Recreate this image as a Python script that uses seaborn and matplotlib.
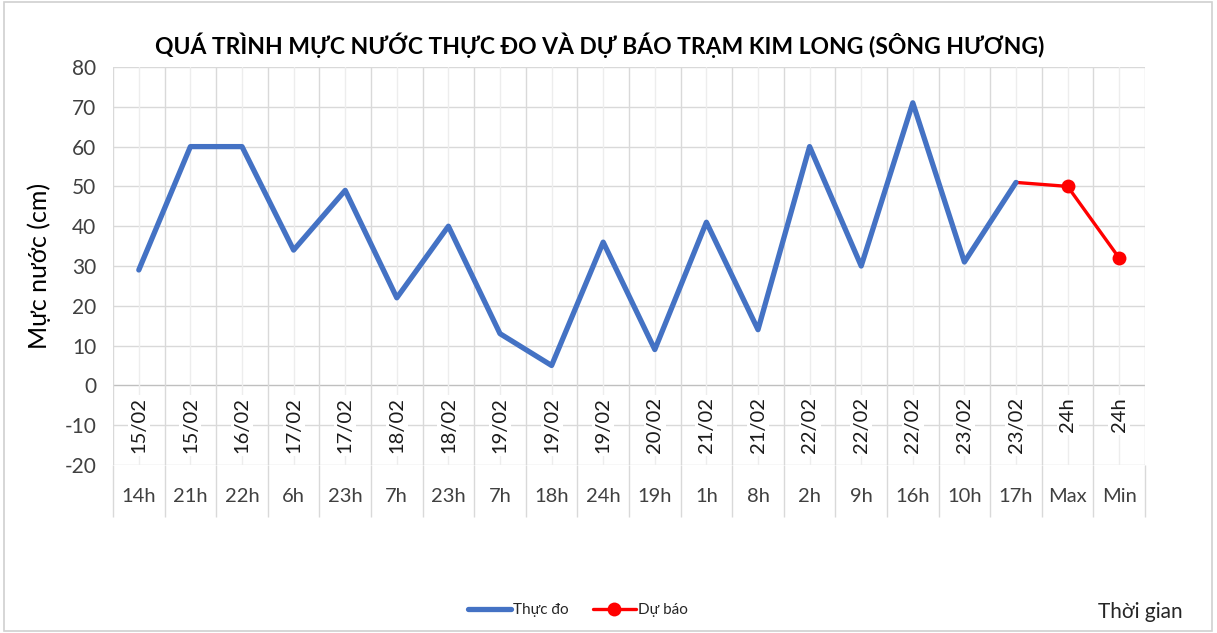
import matplotlib
matplotlib.use("Agg")
import matplotlib.pyplot as plt
import seaborn as sns
import pandas as pd
import numpy as np
from matplotlib.patches import Rectangle

dates = ["15/02", "15/02", "16/02", "17/02", "17/02", "18/02", "18/02", "19/02", "19/02",
         "19/02", "20/02", "21/02", "21/02", "22/02", "22/02", "22/02", "23/02", "23/02", "24h", "24h"]
hours = ["14h", "21h", "22h", "6h", "23h", "7h", "23h", "7h", "18h", "24h", "19h",
         "1h", "8h", "2h", "9h", "16h", "10h", "17h", "Max", "Min"]
# measured (Thực đo)
measured = [29, 60, 60, 34, 49, 22, 40, 13, 5, 36, 9, 41, 14, 60, 30, 71, 31, 51]
# forecast (Dự báo), starting at the last observation
forecast = [51, 50, 32]
forecast_start = 17

sns.set_style("white")
plt.rcParams['font.family'] = ['Lato', 'DejaVu Sans']
plt.rcParams['axes.unicode_minus'] = False

n = len(hours)

W, H = 1217, 633
fig = plt.figure(figsize=(W / 100, H / 100), dpi=100)
left, right, top, bottom = 113, 1145, 67, 465
ax = fig.add_axes([left / W, 1 - bottom / H, (right - left) / W, (bottom - top) / H])

blue = "#4472C4"
red = "#FF0000"
grid_c = "#D9D9D9"

df_m = pd.DataFrame({"x": np.arange(len(measured)) + 0.5, "y": measured})
df_f = pd.DataFrame({"x": np.arange(forecast_start, forecast_start + len(forecast)) + 0.5, "y": forecast})

ax.set_xlim(0, n)
ax.set_ylim(-20, 80)

# grid
for yv in range(-20, 81, 10):
    ax.axhline(yv, color="#BFBFBF" if yv == 0 else grid_c, lw=1.0, zorder=0)
for i in range(n + 1):
    ax.axvline(i, color=grid_c, lw=1.0, zorder=0)
for i in range(n):
    ax.axvline(i + 0.5, color="#EDEDED", lw=1.0, zorder=0)

sns.lineplot(data=df_f, x="x", y="y", ax=ax, color=red, lw=2.4, marker="o",
             markersize=10, markevery=[1, 2], markeredgewidth=0, zorder=3, label="Dự báo")
sns.lineplot(data=df_m, x="x", y="y", ax=ax, color=blue, lw=3.8, zorder=4, label="Thực đo")

ax.set_yticks(range(-20, 81, 10))
ax.set_xticks([])
ax.tick_params(axis="y", length=0, pad=12, labelsize=15, labelcolor="#404040")
for s in ax.spines.values():
    s.set_visible(False)
ax.set_xlabel("")
ax.set_ylabel("Mực nước (cm)", fontsize=18, color="#000000", labelpad=10)

# date labels inside plot (rotated)
for i, d in enumerate(dates):
    ax.text(i + 0.5, -3.0, d, rotation=90, ha="center", va="top", fontsize=14.5,
            color="#1a1a1a", zorder=5,
            bbox=dict(boxstyle="square,pad=0.12", fc="white", ec="none"))

# hour row below
trans = ax.get_xaxis_transform()
tb = -(517 - 465) / (bottom - top)
ax.vlines(np.arange(n + 1), tb, 0, transform=trans, colors=grid_c, lw=1.0, clip_on=False)
for i, h in enumerate(hours):
    ax.text(i + 0.5, -(497 - 465) / (bottom - top), h, transform=trans, ha="center",
            va="center", fontsize=14.5, color="#404040", clip_on=False)

fig.text(600 / W, 1 - 45 / H, "QUÁ TRÌNH MỰC NƯỚC THỰC ĐO VÀ DỰ BÁO TRẠM KIM LONG (SÔNG HƯƠNG)",
         ha="center", va="center", fontsize=16.5, fontweight="bold", color="#000000")

handles, labels = ax.get_legend_handles_labels()
order = [labels.index("Thực đo"), labels.index("Dự báo")]
fig.legend([handles[k] for k in order], [labels[k] for k in order],
           loc="center", bbox_to_anchor=(578 / W, 1 - 610 / H), ncol=2, frameon=False,
           fontsize=11, handlelength=2.8, handletextpad=0.15, columnspacing=1.6)
if ax.get_legend():
    ax.get_legend().remove()

fig.text(1140 / W, 1 - 612 / H, "Thời gian", ha="center", va="center", fontsize=15, color="#262626")

fig.patches.append(Rectangle((4 / W, 2 / H), (W - 9) / W, (H - 4) / H, transform=fig.transFigure,
                             fill=False, ec="#D0D0D0", lw=1.2))

fig.savefig("out.png", dpi=100)
